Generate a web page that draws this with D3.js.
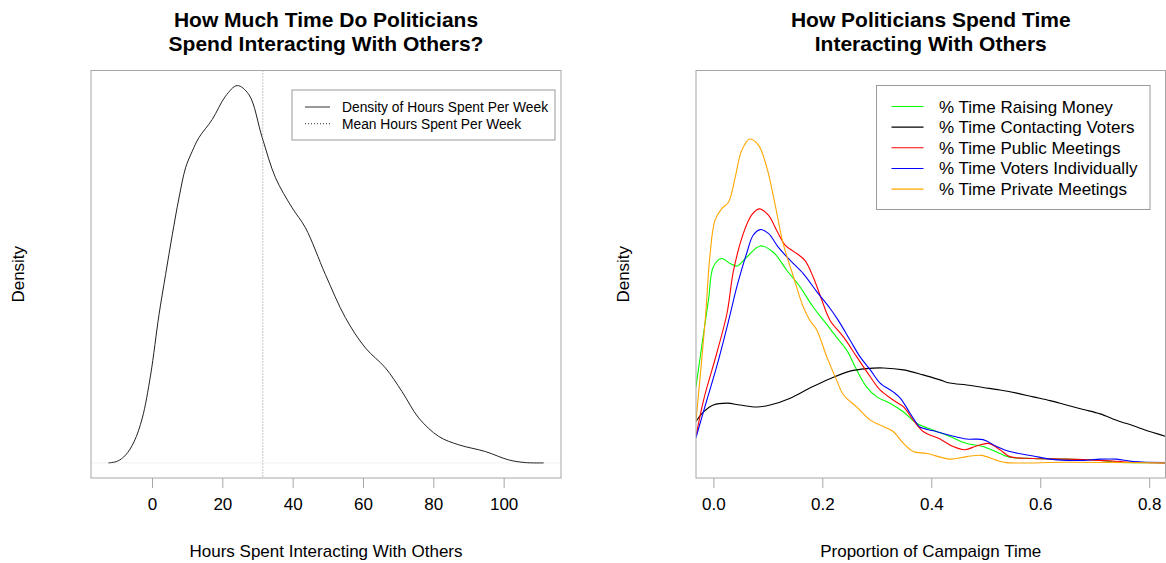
<!DOCTYPE html>
<html>
<head>
<meta charset="utf-8">
<script src="https://cdn.jsdelivr.net/npm/d3@7"></script>
<style>
  html, body { margin: 0; padding: 0; background: #fff; }
  svg { display: block; font-family: "Liberation Sans", Arial, Helvetica, sans-serif; }
</style>
</head>
<body>
<svg id="chart" width="1166" height="563"></svg>
<script>
// ---- Left panel: kernel density of weekly hours spent interacting with others ----
const hours = [-12.4, -9.86, -7.5, -5.11, -2.76, -0.4, 1.99, 3.86, 5.77, 7.67, 9.55, 11.45, 13.35,
  17.13, 20.91, 24.23, 27.56, 31.34, 35.11, 39.86, 43.64, 49.32, 55.0, 60.68, 66.36, 71.11,
  75.85, 81.53, 87.22, 94.77, 101.42, 106.14, 111.36];
const hoursDensity = [0.00000, 0.00010, 0.00047, 0.00126, 0.00268, 0.00524, 0.00884, 0.01123,
  0.01361, 0.01580, 0.01760, 0.01859, 0.01940, 0.02048, 0.02187, 0.02250, 0.02196, 0.01940,
  0.01701, 0.01521, 0.01402, 0.01123, 0.00866, 0.00686, 0.00567, 0.00425, 0.00268, 0.00158,
  0.00108, 0.00068, 0.00018, 0.00002, 0.00000];
const meanHours = 31.5;
const hoursTicks = [0, 20, 40, 60, 80, 100];
const leftLegend = ["Density of Hours Spent Per Week", "Mean Hours Spent Per Week"];

// ---- Right panel: density of the share of campaign time per activity ----
const raisingMoney = [[-0.032, 1.21], [-0.018, 2.06], [-0.009, 2.59], [0.0, 3.12], [0.015, 3.25],
  [0.031, 3.17], [0.043, 3.13], [0.061, 3.27], [0.086, 3.45], [0.110, 3.35], [0.135, 3.06],
  [0.159, 2.80], [0.183, 2.48], [0.202, 2.27], [0.226, 2.00], [0.245, 1.79], [0.263, 1.48],
  [0.281, 1.21], [0.300, 1.05], [0.324, 0.95], [0.349, 0.81], [0.373, 0.63], [0.404, 0.52],
  [0.434, 0.42], [0.465, 0.31], [0.495, 0.26], [0.526, 0.15], [0.544, 0.09], [0.587, 0.07],
  [0.648, 0.06], [0.710, 0.04], [0.740, 0.01], [0.831, 0.005]];
const contactingVoters = [[-0.032, 0.66], [-0.018, 0.81], [0.0, 0.92], [0.025, 0.95], [0.049, 0.92],
  [0.080, 0.89], [0.104, 0.92], [0.141, 1.03], [0.177, 1.19], [0.214, 1.34], [0.251, 1.46],
  [0.281, 1.50], [0.312, 1.51], [0.349, 1.48], [0.385, 1.40], [0.416, 1.32], [0.434, 1.27],
  [0.465, 1.24], [0.495, 1.20], [0.526, 1.16], [0.557, 1.11], [0.587, 1.05], [0.618, 0.99],
  [0.648, 0.92], [0.679, 0.85], [0.710, 0.78], [0.740, 0.68], [0.771, 0.59], [0.801, 0.50],
  [0.831, 0.42], [0.860, 0.33]];
const publicMeetings = [[-0.032, 0.42], [-0.018, 1.00], [0.006, 1.74], [0.025, 2.38], [0.037, 3.06],
  [0.055, 3.65], [0.070, 3.94], [0.084, 4.04], [0.101, 3.94], [0.116, 3.70], [0.132, 3.46],
  [0.153, 3.33], [0.168, 3.22], [0.183, 2.96], [0.199, 2.59], [0.214, 2.27], [0.239, 2.00],
  [0.263, 1.69], [0.288, 1.37], [0.306, 1.16], [0.330, 1.00], [0.349, 0.89], [0.367, 0.68],
  [0.385, 0.50], [0.416, 0.38], [0.440, 0.26], [0.462, 0.21], [0.483, 0.27], [0.505, 0.31],
  [0.526, 0.21], [0.544, 0.10], [0.587, 0.07], [0.648, 0.06], [0.710, 0.04], [0.770, 0.01],
  [0.831, 0.0]];
const votersIndividually = [[-0.032, 0.40], [-0.012, 1.00], [0.006, 1.53], [0.025, 2.16],
  [0.037, 2.59], [0.043, 2.80], [0.061, 3.33], [0.073, 3.62], [0.086, 3.71], [0.101, 3.65],
  [0.119, 3.43], [0.141, 3.22], [0.165, 3.01], [0.190, 2.72], [0.214, 2.46], [0.229, 2.27],
  [0.251, 1.95], [0.269, 1.69], [0.288, 1.48], [0.306, 1.27], [0.330, 1.13], [0.343, 1.03],
  [0.361, 0.79], [0.373, 0.63], [0.379, 0.57], [0.404, 0.51], [0.434, 0.44], [0.465, 0.38],
  [0.495, 0.37], [0.520, 0.26], [0.544, 0.18], [0.587, 0.11], [0.618, 0.06], [0.648, 0.04],
  [0.679, 0.04], [0.710, 0.06], [0.740, 0.06], [0.771, 0.02], [0.831, 0.005]];
const privateMeetings = [[-0.032, 0.66], [-0.015, 2.27], [-0.006, 3.33], [0.003, 3.86], [0.015, 4.04],
  [0.028, 4.15], [0.040, 4.54], [0.052, 4.97], [0.067, 5.15], [0.083, 5.05], [0.098, 4.70],
  [0.113, 4.12], [0.128, 3.49], [0.147, 2.96], [0.165, 2.48], [0.177, 2.27], [0.190, 2.11],
  [0.208, 1.69], [0.226, 1.32], [0.239, 1.08], [0.263, 0.89], [0.288, 0.68], [0.312, 0.58],
  [0.330, 0.50], [0.349, 0.31], [0.367, 0.18], [0.392, 0.15], [0.434, 0.06], [0.465, 0.10],
  [0.492, 0.12], [0.520, 0.04], [0.538, 0.005], [0.648, 0.01], [0.831, 0.0]];
const activityNames = ["% Time Raising Money", "% Time Contacting Voters", "% Time Public Meetings",
  "% Time Voters Individually", "% Time Private Meetings"];
const activityColors = ["#00ff00", "#000000", "#ff0000", "#0000ff", "#ffa500"];
const proportionTicks = [0.0, 0.2, 0.4, 0.6, 0.8];
const proportionLimits = [0, 0.798];
const proportionDensityLimits = [0, 6];

const svg = d3.select("#chart");
const frameColor = "#a6a6a6";
const PLOT_TOP = 70.5, PLOT_BOTTOM = 478;
const smooth = d3.curveCatmullRom.alpha(0.5);

// R-style 4% padding around the data limits
function padded(lim) {
  const d = (lim[1] - lim[0]) * 0.04;
  return [lim[0] - d, lim[1] + d];
}

function panel(opts) {
  const g = svg.append("g");
  const x = d3.scaleLinear().domain(padded(opts.xlim)).range([opts.left, opts.right]);
  const y = d3.scaleLinear().domain(padded(opts.ylim)).range([PLOT_BOTTOM, PLOT_TOP]);
  const clipId = "clip-" + opts.id;
  svg.append("clipPath").attr("id", clipId).append("rect")
    .attr("x", opts.left).attr("y", PLOT_TOP)
    .attr("width", opts.right - opts.left).attr("height", PLOT_BOTTOM - PLOT_TOP);

  // x axis with ticks hanging below the frame
  const axis = g.append("g").attr("transform", `translate(0,${PLOT_BOTTOM})`)
    .call(d3.axisBottom(x).tickValues(opts.ticks).tickSize(10).tickPadding(10)
      .tickFormat(opts.tickFormat));
  axis.select(".domain").remove();
  axis.selectAll(".tick line").attr("stroke", frameColor);
  axis.selectAll(".tick text").attr("fill", "#000").style("font-size", "17px")
    .attr("font-family", null);

  // titles
  const cx = (opts.left + opts.right) / 2;
  opts.title.forEach((t, i) => {
    g.append("text").attr("x", cx).attr("y", 27 + i * 24).attr("text-anchor", "middle")
      .style("font-size", "21px").style("font-weight", "bold").text(t);
  });
  g.append("text").attr("x", cx).attr("y", 557).attr("text-anchor", "middle")
    .style("font-size", "17px").text(opts.xlabel);
  g.append("text").attr("transform", `translate(${opts.left - 67},${(PLOT_TOP + PLOT_BOTTOM) / 2}) rotate(-90)`)
    .attr("text-anchor", "middle").style("font-size", "17px").text("Density");

  const plot = g.append("g").attr("clip-path", `url(#${clipId})`);
  return { g, plot, x, y };
}

// ---- Left panel ----
const L = panel({
  id: "hours", left: 91, right: 561, xlim: [hours[0], hours[hours.length - 1]],
  ylim: [0, d3.max(hoursDensity)], ticks: hoursTicks, tickFormat: d3.format("d"),
  title: ["How Much Time Do Politicians", "Spend Interacting With Others?"],
  xlabel: "Hours Spent Interacting With Others"
});
L.plot.append("line")
  .attr("x1", L.x.range()[0]).attr("x2", L.x.range()[1])
  .attr("y1", L.y(0)).attr("y2", L.y(0))
  .attr("stroke", "#f0f0f0").attr("stroke-width", 1);
L.plot.append("path")
  .datum(hours.map((h, i) => [h, hoursDensity[i]]))
  .attr("fill", "none").attr("stroke", "#222").attr("stroke-width", 1)
  .attr("d", d3.line().x(d => L.x(d[0])).y(d => L.y(d[1])).curve(smooth));
L.plot.append("line")
  .attr("x1", L.x(meanHours)).attr("x2", L.x(meanHours))
  .attr("y1", PLOT_TOP).attr("y2", PLOT_BOTTOM)
  .attr("stroke", "#8c8c8c").attr("stroke-width", 1).attr("stroke-dasharray", "1,2");
L.g.append("rect").attr("x", 91).attr("y", PLOT_TOP).attr("width", 470)
  .attr("height", PLOT_BOTTOM - PLOT_TOP).attr("fill", "none").attr("stroke", frameColor);

// left legend
const ll = L.g.append("g");
ll.append("rect").attr("x", 292).attr("y", 90).attr("width", 263).attr("height", 50)
  .attr("fill", "#fff").attr("stroke", "#9a9a9a");
leftLegend.forEach((t, i) => {
  const yy = 107 + i * 16.7;
  ll.append("line").attr("x1", 305).attr("x2", 330).attr("y1", yy).attr("y2", yy)
    .attr("stroke", "#333").attr("stroke-width", 1)
    .attr("stroke-dasharray", i === 1 ? "1,2" : null);
  ll.append("text").attr("x", 342).attr("y", yy + 5).style("font-size", "13.8px").text(t);
});

// ---- Right panel ----
const R = panel({
  id: "campaign", left: 696, right: 1165.5, xlim: proportionLimits,
  ylim: proportionDensityLimits, ticks: proportionTicks, tickFormat: d3.format(".1f"),
  title: ["How Politicians Spend Time", "Interacting With Others"],
  xlabel: "Proportion of Campaign Time"
});
const activitySeries = [raisingMoney, contactingVoters, publicMeetings, votersIndividually, privateMeetings];
const curve = d3.line().x(d => R.x(d[0])).y(d => R.y(d[1])).curve(smooth);
activitySeries.forEach((s, i) => {
  R.plot.append("path").datum(s).attr("fill", "none")
    .attr("stroke", activityColors[i]).attr("stroke-width", 1.1).attr("d", curve);
});
R.g.append("rect").attr("x", 696).attr("y", PLOT_TOP).attr("width", 469.5)
  .attr("height", PLOT_BOTTOM - PLOT_TOP).attr("fill", "none").attr("stroke", frameColor);

// right legend
const rl = R.g.append("g");
rl.append("rect").attr("x", 876.5).attr("y", 85.5).attr("width", 273.5).attr("height", 124)
  .attr("fill", "#fff").attr("stroke", "#9a9a9a");
activityNames.forEach((t, i) => {
  const yy = 106.5 + i * 20.65;
  rl.append("line").attr("x1", 891.5).attr("x2", 923.5).attr("y1", yy).attr("y2", yy)
    .attr("stroke", activityColors[i]).attr("stroke-width", 1.1);
  rl.append("text").attr("x", 939).attr("y", yy + 6).style("font-size", "17px").text(t);
});
</script>
</body>
</html>
